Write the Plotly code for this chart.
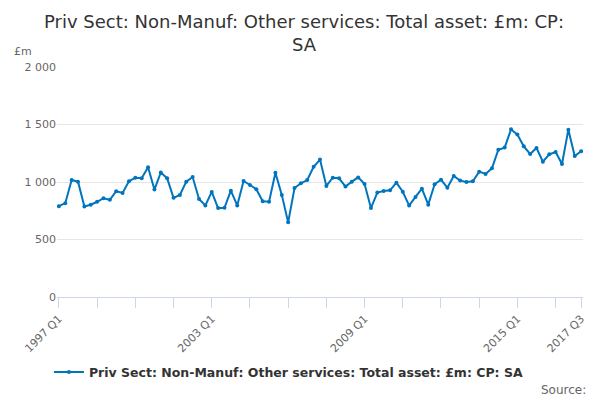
import plotly.graph_objects as go

# quarters 1997 Q1 .. 2017 Q3
quarters = [f"{y} Q{q}" for y in range(1997, 2018) for q in range(1, 5)][:83]

# £m
values = [
    790, 816, 1017, 1003, 787, 802, 828, 859, 845, 920, 905, 1006,
    1037, 1032, 1129, 934, 1083, 1032, 862, 888, 1003, 1043, 853, 796,
    914, 773, 776, 925, 796, 1009, 974, 937, 833, 828, 1080, 888,
    649, 948, 989, 1017, 1132, 1195, 966, 1037, 1032, 960, 1003, 1040,
    983, 773, 908, 922, 928, 994, 915, 795, 870, 942, 803, 980,
    1020, 951, 1052, 1012, 1000, 1006, 1090, 1070, 1119, 1281, 1299, 1458,
    1412, 1310, 1244, 1296, 1177, 1241, 1261, 1157, 1455, 1226, 1267,
]

series_name = "Priv Sect: Non-Manuf: Other services: Total asset: £m: CP: SA"
title = "Priv Sect: Non-Manuf: Other services: Total asset: £m: CP:<br>SA"

labelled = ["1997 Q1", "2003 Q1", "2009 Q1", "2015 Q1", "2017 Q3"]
tick_vals = quarters[::6] + [quarters[-1]]
tick_text = [q if q in labelled else "" for q in tick_vals]

font = "DejaVu Sans"
blue = "#0075be"

fig = go.Figure()
fig.add_trace(go.Scatter(
    x=quarters, y=values, name=series_name, mode="lines+markers",
    line=dict(color=blue, width=2),
    marker=dict(color=blue, size=4),
))

#ejes
fig.update_xaxes(
    type="category", tickvals=tick_vals, ticktext=tick_text, tickangle=-45,
    ticks="outside", ticklen=10, tickcolor="#ccd6eb", showline=True,
    linecolor="#ccd6eb", showgrid=False, range=[-0.3, 82.3], automargin=False,
    tickfont=dict(family=font, size=11, color="#666666"),
)
fig.update_yaxes(
    range=[0, 2000], dtick=500, separatethousands=True, showgrid=True,
    gridcolor="#e6e6e6", zeroline=False, automargin=False,
    tickfont=dict(family=font, size=11, color="#666666"),
)

fig.add_annotation(text="£m", xref="paper", yref="paper", x=-0.085, y=1.03,
                   xanchor="left", yanchor="bottom", showarrow=False,
                   font=dict(family=font, size=11, color="#666666"))
fig.add_annotation(text="Source:", xref="paper", yref="paper", x=1.01, y=-0.405,
                   xanchor="right", yanchor="middle", showarrow=False,
                   font=dict(family=font, size=12, color="#666666"))

#tamaño (la página tiene 8px de margen)
fig.update_layout(
    width=592, height=392, separators=". ",
    paper_bgcolor="white", plot_bgcolor="white",
    title=dict(text=title, x=0.5, xanchor="center", y=0.949, yanchor="middle",
               font=dict(family=font, size=18, color="#333333")),
    margin=dict(l=49, r=17, t=59, b=103),
    showlegend=True,
    legend=dict(orientation="h", x=0.44, xanchor="center", y=-0.263, yanchor="top",
                font=dict(family=font, size=12.5, color="#333333", weight="bold")),
)

fig.write_html("out.html")
